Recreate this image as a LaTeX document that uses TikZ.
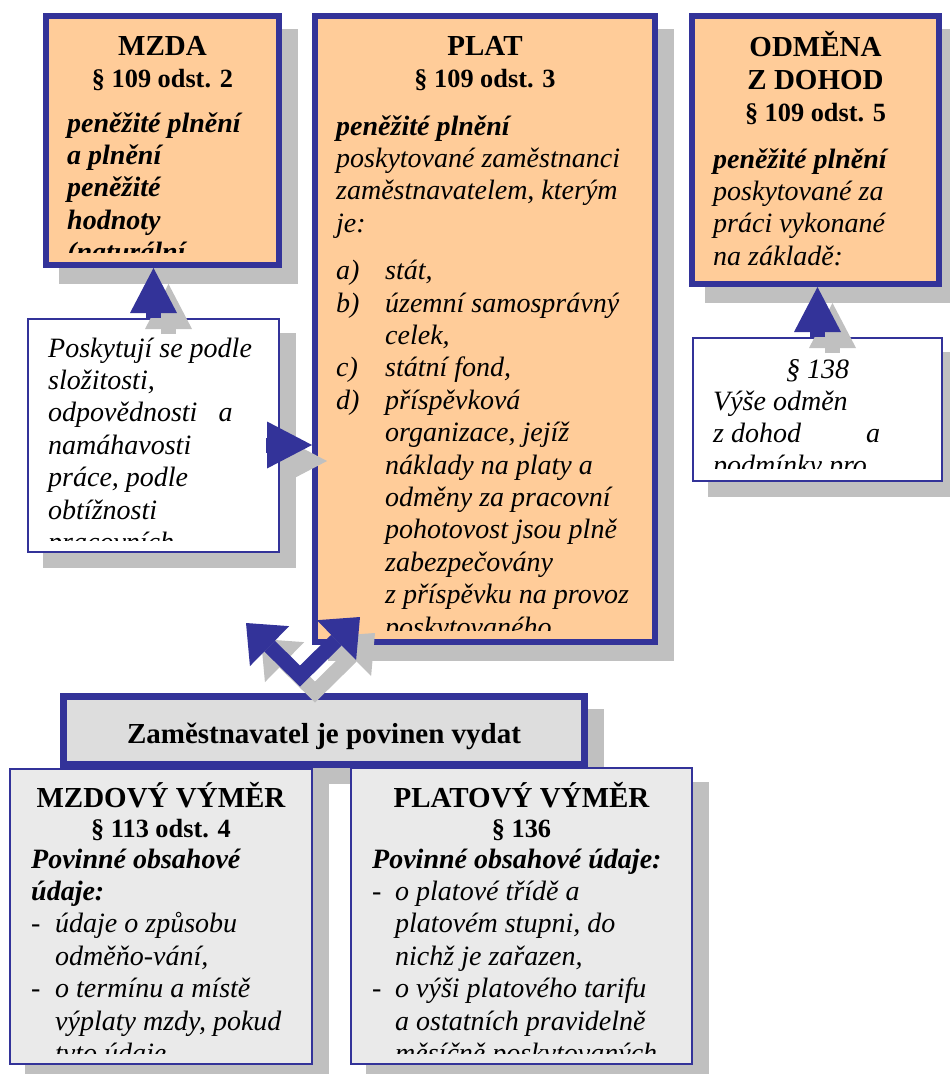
\documentclass[tikz,border=0pt]{standalone}
\usepackage{fontspec}
\setmainfont{Liberation Serif}
\usetikzlibrary{arrows.meta,calc,shadows}

\definecolor{modra}{HTML}{333399}
\definecolor{oranzova}{HTML}{FFCC99}
\definecolor{stin}{HTML}{C0C0C0}
\definecolor{seda}{HTML}{EAEAEA}
\definecolor{sedatm}{HTML}{DDDDDD}

\newcommand{\pismoTitul}{\fontsize{29}{32}\selectfont\bfseries}
\newcommand{\pismoOdst}{\fontsize{26.3}{30}\selectfont\bfseries}
\newcommand{\pismoText}{\fontsize{28}{32.4}\selectfont\itshape}
\newcommand{\blok}[2]{\parbox[t]{#1}{\pismoText\raggedright #2}}
\newcommand{\bod}[2]{\makebox[#1][l]{#2}}

\begin{document}
\begin{tikzpicture}[x=1pt,y=-1pt]
\tikzset{
  tlusty/.style={draw=modra, line width=6pt, fill=oranzova, inner sep=0pt,
    drop shadow={shadow xshift=16pt, shadow yshift=-16pt, fill=stin, draw=stin, opacity=1}},
  tenky/.style={draw=modra, line width=2pt, fill=white, inner sep=0pt,
    drop shadow={shadow xshift=16pt, shadow yshift=-15pt, fill=stin, draw=stin, opacity=1}},
  nadpis/.style={inner sep=0pt, anchor=base, font=\pismoTitul},
  odst/.style={nadpis, font=\pismoOdst},
  popis/.style={inner sep=0pt, anchor=base west},
  sipka/.style={line width=15pt, -{Triangle[length=45pt, width=47pt, line width=0pt 0 0]}},
  vsipka/.style={line width=15pt, line join=miter,
    {Triangle[length=33pt, width=56pt, line width=0pt 0 0]}-{Triangle[length=33pt, width=56pt, line width=0pt 0 0]}},
}
\useasboundingbox (0,0) rectangle (950,1074);

% les cadres du haut
\node[tlusty, minimum width=233pt, minimum height=249pt] (mzda) at (162.5,140.5) {};
\node[tlusty, minimum width=340pt, minimum height=626pt] (plat) at (485,329) {};
\node[tlusty, minimum width=247pt, minimum height=268pt] (odm) at (815.5,150) {};
\node[tenky, minimum width=251pt, minimum height=233pt] (posk) at (153.5,435.5) {};
\node[tenky, minimum width=249pt, minimum height=143pt] (pod) at (817.5,409.5) {};

% les cadres du bas
\node[tlusty, fill=sedatm, line width=7pt, minimum width=521pt, minimum height=68pt] (zam) at (324,730.5) {};
\node[tenky, fill=seda, minimum width=302pt, minimum height=295pt] (mvym) at (161,916.5) {};
\node[tenky, fill=seda, minimum width=341pt, minimum height=296pt] (pvym) at (521.5,916) {};

% les titres
\node[nadpis] (mzda-t) at (162.5,55) {MZDA};
\node[odst] (mzda-o) at (162.5,87) {§ 109 odst. 2};
\node[nadpis] (plat-t) at (485,55) {PLAT};
\node[odst] (plat-o) at (485,87) {§ 109 odst. 3};
\node[nadpis] (odm-t1) at (815.5,56) {ODMĚNA};
\node[nadpis] (odm-t2) at (815.5,89) {Z DOHOD};
\node[odst] (odm-o) at (815.5,121) {§ 109 odst. 5};
\node[nadpis] (zam-t) at (324,743) {Zaměstnavatel je povinen vydat};
\node[nadpis] (mvym-t) at (161,807) {MZDOVÝ VÝMĚR};
\node[odst] (mvym-o) at (161,837) {§ 113 odst. 4};
\node[nadpis] (pvym-t) at (521.5,807) {PLATOVÝ VÝMĚR};
\node[odst] (pvym-o) at (521.5,837) {§ 136};

% les textes, coupés en bas
\begin{scope}
  \clip (49,19) rectangle (276,252);
  \node[popis] (mzda-p) at (67,132) {\blok{205pt}{\bfseries peněžité plnění\\a plnění\\peněžité\\hodnoty\\(naturální}};
\end{scope}
\begin{scope}
  \clip (318,19) rectangle (652,630);
  \node[popis] (plat-p) at (336,135) {\blok{310pt}{{\bfseries peněžité plnění}\\poskytované zaměstnanci\\zaměstnavatelem, kterým\\je:\\[15pt]%
    \bod{49pt}{a)}stát,\\\bod{49pt}{b)}územní samosprávný\\\hspace*{49pt}celek,\\\bod{49pt}{c)}státní fond,\\%
    \bod{49pt}{d)}příspěvková\\\hspace*{49pt}organizace, jejíž\\\hspace*{49pt}náklady na platy a\\%
    \hspace*{49pt}odměny za pracovní\\\hspace*{49pt}pohotovost jsou plně\\\hspace*{49pt}zabezpečovány\\%
    \hspace*{49pt}z příspěvku na provoz\\\hspace*{49pt}poskytovaného}};
\end{scope}
\begin{scope}
  \clip (695,19) rectangle (936,278);
  \node[popis] (odm-p) at (713,168) {\blok{220pt}{{\bfseries peněžité plnění}\\poskytované za\\práci vykonané\\na základě:}};
\end{scope}
\begin{scope}
  \clip (29,320) rectangle (278,540);
  \node[popis] (posk-p) at (48,357) {\blok{225pt}{Poskytují se podle\\složitosti,\\odpovědnosti\hspace{21pt}a\\namáhavosti\\práce, podle\\obtížnosti\\pracovních}};
\end{scope}
\begin{scope}
  \clip (694,339) rectangle (941,468);
  \node[inner sep=0pt, anchor=base, font=\pismoText] (pod-t) at (817.5,378) {§ 138};
  \node[popis] (pod-p) at (713,410) {\blok{220pt}{Výše odměn\\z dohod\hspace{65pt}a\\podmínky pro}};
\end{scope}
\begin{scope}
  \clip (11,770) rectangle (311,1053);
  \node[popis] (mvym-p) at (31,868) {\blok{275pt}{{\bfseries Povinné obsahové\\údaje:}\\\bod{24pt}{-}údaje o způsobu\\\hspace*{24pt}odměňo-vání,\\%
    \bod{24pt}{-}o termínu a místě\\\hspace*{24pt}výplaty mzdy, pokud\\\hspace*{24pt}tyto údaje}};
\end{scope}
\begin{scope}
  \clip (352,769) rectangle (691,1053);
  \node[popis] (pvym-p) at (372,868) {\blok{315pt}{{\bfseries Povinné obsahové údaje:}\\\bod{23pt}{-}o platové třídě a\\\hspace*{23pt}platovém stupni, do\\%
    \hspace*{23pt}nichž je zařazen,\\\bod{23pt}{-}o výši platového tarifu\\\hspace*{23pt}a ostatních pravidelně\\\hspace*{23pt}měsíčně poskytovaných}};
\end{scope}

% les flèches : ombre puis flèche
\coordinate (a3) at (266,445);
\coordinate (vlevo) at (246,623);
\coordinate (vdno) at (300,676);
\coordinate (vpravo) at (360,617);
\begin{scope}[transform canvas={xshift=15pt,yshift=-16pt}, stin]
  \draw[sipka] (posk.north) -- (posk.north |- mzda.south);
  \draw[sipka] (pod.north) -- (pod.north |- odm.south);
  \draw[sipka] (a3) -- (a3 -| plat.west);
  \draw[vsipka] (vlevo) -- (vdno) -- (vpravo);
\end{scope}
\begin{scope}[modra]
  \draw[sipka] (posk.north) -- (posk.north |- mzda.south);
  \draw[sipka] (pod.north) -- (pod.north |- odm.south);
  \draw[sipka] (a3) -- (a3 -| plat.west);
  \draw[vsipka] (vlevo) -- (vdno) -- (vpravo);
\end{scope}
\end{tikzpicture}
\end{document}
